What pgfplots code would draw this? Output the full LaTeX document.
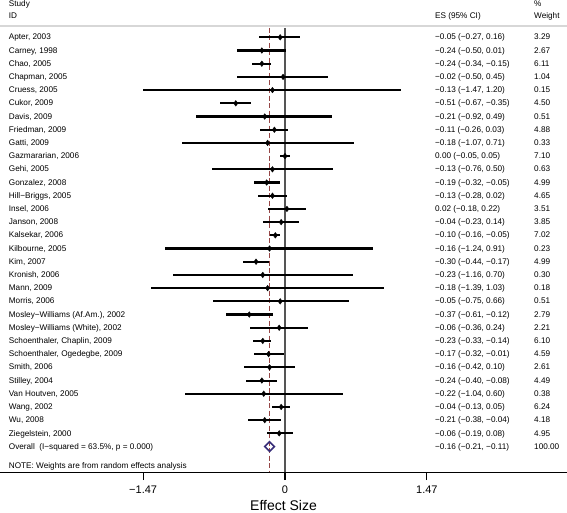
\documentclass[border=0pt]{standalone}
\usepackage{pgfplots}
\pgfplotsset{compat=1.18}
\usepackage{pgfplotstable}
\usepackage{fontspec}
\setmainfont{Liberation Sans}
\definecolor{zeroline}{RGB}{85,85,85}
\definecolor{dashred}{RGB}{150,70,70}
\definecolor{ovcol}{RGB}{55,45,120}
\definecolor{sepgray}{RGB}{215,215,215}

\pgfplotstableread{
row es lo hi
1 -0.05 -0.27 0.16
2 -0.24 -0.50 0.01
3 -0.24 -0.34 -0.15
4 -0.02 -0.50 0.45
5 -0.13 -1.47 1.20
6 -0.51 -0.67 -0.35
7 -0.21 -0.92 0.49
8 -0.11 -0.26 0.03
9 -0.18 -1.07 0.71
10 0.00 -0.05 0.05
11 -0.13 -0.76 0.50
12 -0.19 -0.32 -0.05
13 -0.13 -0.28 0.02
14 0.02 -0.18 0.22
15 -0.04 -0.23 0.14
16 -0.10 -0.16 -0.05
17 -0.16 -1.24 0.91
18 -0.30 -0.44 -0.17
19 -0.23 -1.16 0.70
20 -0.18 -1.39 1.03
21 -0.05 -0.75 0.66
22 -0.37 -0.61 -0.12
23 -0.06 -0.36 0.24
24 -0.23 -0.33 -0.14
25 -0.17 -0.32 -0.01
26 -0.16 -0.42 0.10
27 -0.24 -0.40 -0.08
28 -0.22 -1.04 0.60
29 -0.04 -0.13 0.05
30 -0.21 -0.38 -0.04
31 -0.06 -0.19 0.08
}\studies

\newcommand{\tx}{-2.863}
\newcommand{\esx}{1.554}
\newcommand{\wx}{2.580}
\newcommand{\row}[4]{%
  \node[lbl] at (axis cs:\tx,-#1) {#2};
  \node[lbl] at (axis cs:\esx,-#1) {#3};
  \node[lbl] at (axis cs:\wx,-#1) {#4};}

\begin{document}
\begin{tikzpicture}[lbl/.style={anchor=mid west, inner sep=0pt, font=\fontsize{8.2}{9.6}\selectfont}]
\begin{axis}[
  at={(0,0)}, anchor=south west,
  scale only axis, width=567pt, height=472.3pt,
  xmin=-2.953, xmax=2.922, ymin=-33.95, ymax=1.826,
  axis x line*=bottom, axis y line=none,
  x axis line style={line width=1.2pt, black},
  xtick={-1.47,0,1.47}, xticklabels={−1.47,0,1.47},
  tick align=outside, major tick length=7.7pt,
  tick style={line width=1.1pt, black},
  xticklabel style={font=\fontsize{11}{11}\selectfont, yshift=-2.5pt},
  xlabel={Effect Size},
  xlabel style={font=\fontsize{14}{14}\selectfont, at={(axis description cs:0.5,0)}, anchor=base, yshift=-38.2pt},
  clip=false,
]
% separator
\addplot[sepgray, line width=1.3pt] coordinates {(-2.953,-0.144) (2.922,-0.144)};
% reference lines
\addplot[zeroline, line width=1.4pt] coordinates {(0,-0.295) (0,-33.95)};
\addplot[dashred, line width=1.2pt, dash pattern=on 5pt off 2.5pt] coordinates {(-0.16,-0.295) (-0.16,-33.95)};
% studies
\addplot[only marks, mark=diamond*, mark size=2.8pt, black,
  error bars/.cd, x dir=both, x explicit, error mark=none,
  error bar style={line width=2.1pt, black}]
  table[x=es, y expr=-\thisrow{row},
        x error plus expr=\thisrow{hi}-\thisrow{es},
        x error minus expr=\thisrow{es}-\thisrow{lo}] {\studies};
% overall diamond
\addplot[ovcol, line width=1.6pt, line join=miter] coordinates {(-0.21,-32) (-0.16,-31.64) (-0.11,-32) (-0.16,-32.36) (-0.21,-32) (-0.16,-31.64)};

% headers
\node[lbl] at (axis cs:\tx,1.52) {Study};
\node[lbl] at (axis cs:\tx,0.636) {ID};
\node[lbl] at (axis cs:\esx,0.636) {ES (95\% CI)};
\node[lbl] at (axis cs:\wx,1.545) {\%};
\node[lbl] at (axis cs:\wx,0.636) {Weight};

\row{1}{Apter, 2003}{−0.05 (−0.27, 0.16)}{3.29}
\row{2}{Carney, 1998}{−0.24 (−0.50, 0.01)}{2.67}
\row{3}{Chao, 2005}{−0.24 (−0.34, −0.15)}{6.11}
\row{4}{Chapman, 2005}{−0.02 (−0.50, 0.45)}{1.04}
\row{5}{Cruess, 2005}{−0.13 (−1.47, 1.20)}{0.15}
\row{6}{Cukor, 2009}{−0.51 (−0.67, −0.35)}{4.50}
\row{7}{Davis, 2009}{−0.21 (−0.92, 0.49)}{0.51}
\row{8}{Friedman, 2009}{−0.11 (−0.26, 0.03)}{4.88}
\row{9}{Gatti, 2009}{−0.18 (−1.07, 0.71)}{0.33}
\row{10}{Gazmararian, 2006}{0.00 (−0.05, 0.05)}{7.10}
\row{11}{Gehi, 2005}{−0.13 (−0.76, 0.50)}{0.63}
\row{12}{Gonzalez, 2008}{−0.19 (−0.32, −0.05)}{4.99}
\row{13}{Hill−Briggs, 2005}{−0.13 (−0.28, 0.02)}{4.65}
\row{14}{Insel, 2006}{0.02 (−0.18, 0.22)}{3.51}
\row{15}{Janson, 2008}{−0.04 (−0.23, 0.14)}{3.85}
\row{16}{Kalsekar, 2006}{−0.10 (−0.16, −0.05)}{7.02}
\row{17}{Kilbourne, 2005}{−0.16 (−1.24, 0.91)}{0.23}
\row{18}{Kim, 2007}{−0.30 (−0.44, −0.17)}{4.99}
\row{19}{Kronish, 2006}{−0.23 (−1.16, 0.70)}{0.30}
\row{20}{Mann, 2009}{−0.18 (−1.39, 1.03)}{0.18}
\row{21}{Morris, 2006}{−0.05 (−0.75, 0.66)}{0.51}
\row{22}{Mosley−Williams (Af.Am.), 2002}{−0.37 (−0.61, −0.12)}{2.79}
\row{23}{Mosley−Williams (White), 2002}{−0.06 (−0.36, 0.24)}{2.21}
\row{24}{Schoenthaler, Chaplin, 2009}{−0.23 (−0.33, −0.14)}{6.10}
\row{25}{Schoenthaler, Ogedegbe, 2009}{−0.17 (−0.32, −0.01)}{4.59}
\row{26}{Smith, 2006}{−0.16 (−0.42, 0.10)}{2.61}
\row{27}{Stilley, 2004}{−0.24 (−0.40, −0.08)}{4.49}
\row{28}{Van Houtven, 2005}{−0.22 (−1.04, 0.60)}{0.38}
\row{29}{Wang, 2002}{−0.04 (−0.13, 0.05)}{6.24}
\row{30}{Wu, 2008}{−0.21 (−0.38, −0.04)}{4.18}
\row{31}{Ziegelstein, 2000}{−0.06 (−0.19, 0.08)}{4.95}
\row{32}{Overall\ \ (I−squared = 63.5\%, p = 0.000)}{−0.16 (−0.21, −0.11)}{100.00}
\node[lbl] at (axis cs:\tx,-33.48) {NOTE: Weights are from random effects analysis};
\end{axis}
\pgfresetboundingbox
\path[use as bounding box] (0,-39.7pt) rectangle (567pt,472.3pt);
\end{tikzpicture}
\end{document}
